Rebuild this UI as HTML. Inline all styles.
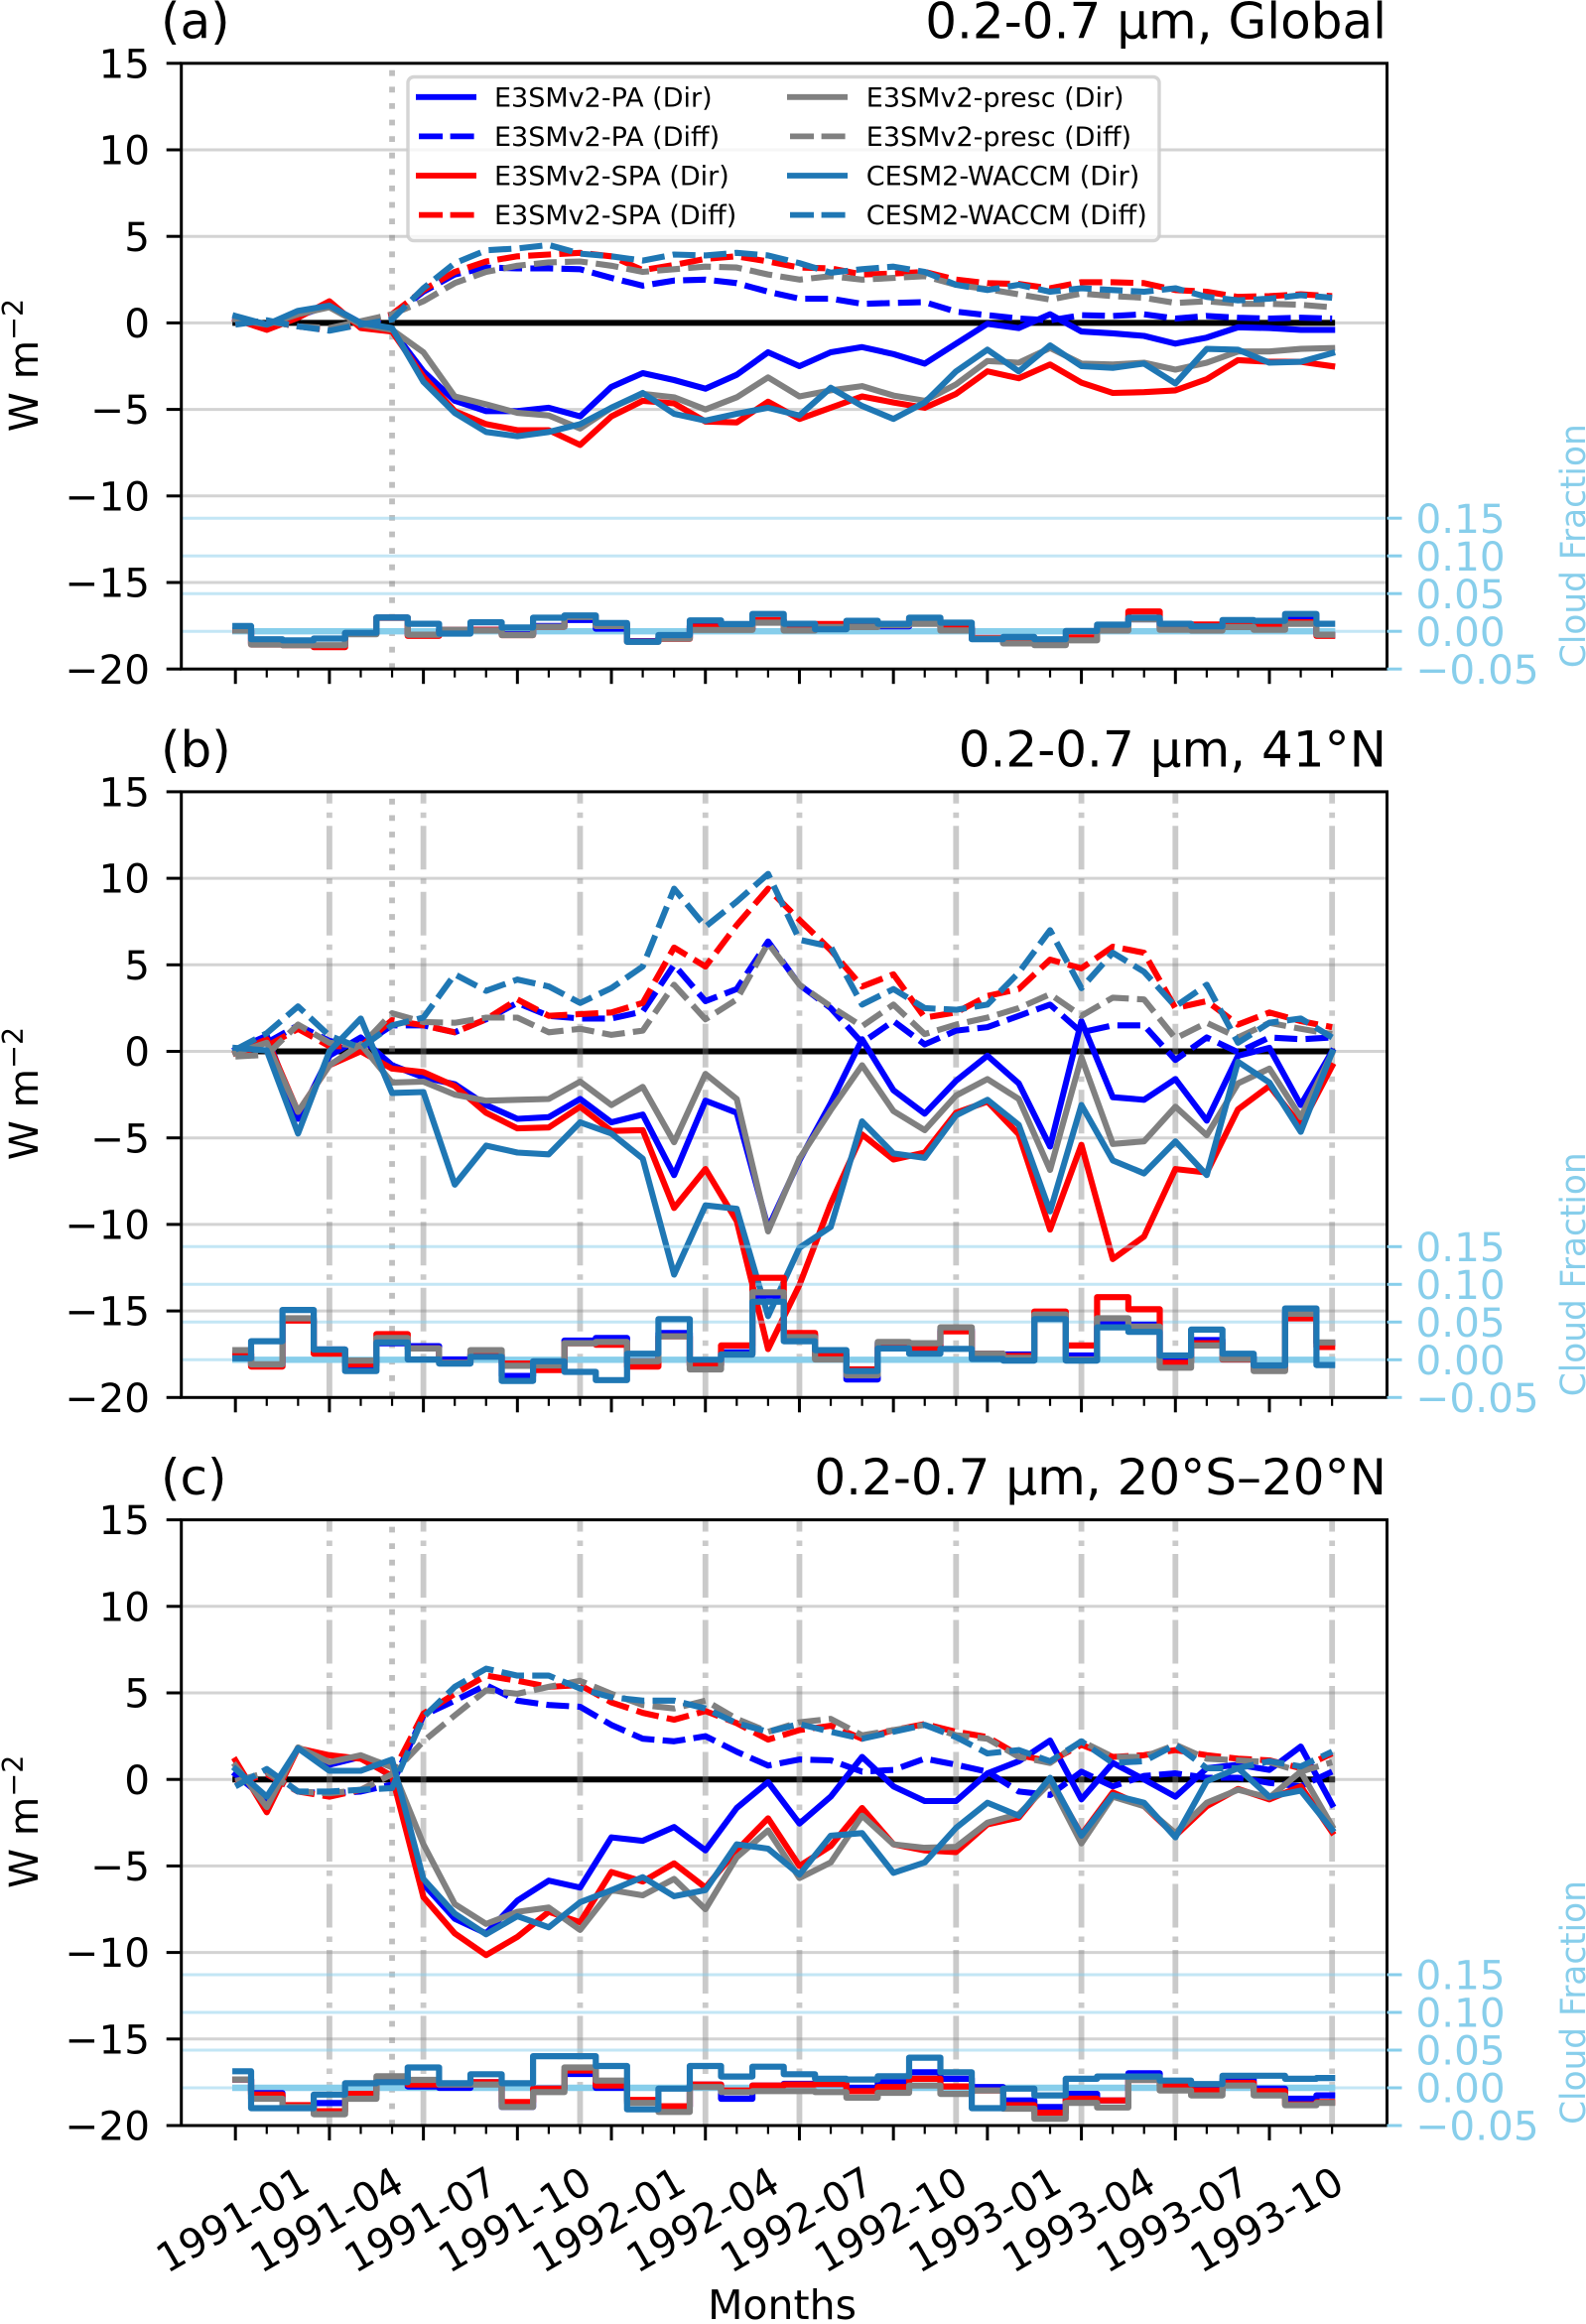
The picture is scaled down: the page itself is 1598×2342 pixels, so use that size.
<!DOCTYPE html>
<html lang="en">
<head>
<meta charset="utf-8">
<title>Radiative flux anomalies, 0.2-0.7 µm</title>
<style>
html,body{margin:0;padding:0;background:#fff;}
svg{display:block;font-family:"DejaVu Sans","Liberation Sans",sans-serif;}
</style>
</head>
<body>
<svg id="chart" xmlns="http://www.w3.org/2000/svg" width="1598" height="2342" viewBox="0 0 1598 2342"></svg>
<script>
// Tick labels and categories
const monthLabels = ['1991-01','1991-04','1991-07','1991-10','1992-01','1992-04','1992-07','1992-10','1993-01','1993-04','1993-07','1993-10'];
const fluxTicks = [15,10,5,0,-5,-10,-15,-20];
const cloudTicks = [0.15,0.10,0.05,0.00,-0.05];
const monthCount = 36;
const eventMonth = 5;
const seasonMonths = [3,6,11,15,18,23,27,30,35];

// Panel (a) Global
const aPaDir = [0.3,-0.1,0.4,1.0,0,-0.4,-2.8,-4.5,-5.1,-5.1,-4.9,-5.4,-3.7,-2.9,-3.3,-3.8,-3.0,-1.7,-2.5,-1.7,-1.4,-1.8,-2.35,-1.2,-0.05,-0.3,0.5,-0.5,-0.6,-0.75,-1.2,-0.85,-0.25,-0.3,-0.4,-0.4];
const aPaDiff = [0,0.1,-0.2,-0.4,-0.1,0.4,1.8,2.8,3.2,3.15,3.15,3.1,2.6,2.15,2.45,2.5,2.3,1.8,1.4,1.4,1.1,1.15,1.2,0.65,0.45,0.25,0.15,0.45,0.4,0.5,0.25,0.4,0.3,0.25,0.3,0.25];
const aSpaDir = [0.2,-0.4,0.3,1.25,-0.3,-0.5,-3.1,-5.1,-5.85,-6.2,-6.2,-7.05,-5.4,-4.5,-4.65,-5.7,-5.75,-4.55,-5.55,-4.9,-4.25,-4.6,-4.9,-4.1,-2.8,-3.2,-2.4,-3.45,-4.05,-4.0,-3.9,-3.25,-2.15,-2.25,-2.25,-2.5];
const aSpaDiff = [0,0.1,-0.2,-0.4,0,0.5,1.9,2.95,3.55,3.85,3.95,4.05,3.85,3.05,3.35,3.7,3.85,3.55,3.2,3.15,2.8,2.85,2.95,2.5,2.3,2.25,2.0,2.35,2.35,2.3,1.9,1.8,1.5,1.55,1.65,1.55];
const aPrescDir = [0.2,-0.1,0.5,0.9,-0.1,-0.4,-1.7,-4.25,-4.7,-5.2,-5.35,-6.1,-4.9,-4.1,-4.3,-5.0,-4.3,-3.15,-4.25,-3.9,-3.65,-4.2,-4.5,-3.55,-2.2,-2.3,-1.45,-2.35,-2.4,-2.3,-2.7,-2.3,-1.65,-1.65,-1.5,-1.45];
const aPrescDiff = [0,0.1,-0.2,-0.3,0.1,0.5,1.25,2.3,2.95,3.3,3.5,3.55,3.3,2.95,3.1,3.25,3.2,2.8,2.5,2.7,2.5,2.6,2.7,2.2,1.95,1.65,1.35,1.7,1.55,1.45,1.15,1.25,1.1,1.1,1.05,0.9];
const aWaccmDir = [0.4,-0.1,0.7,1.0,0,-0.3,-3.4,-5.2,-6.3,-6.55,-6.3,-5.85,-4.9,-4.05,-5.25,-5.65,-5.25,-4.9,-5.35,-3.75,-4.8,-5.55,-4.6,-2.8,-1.55,-2.8,-1.3,-2.5,-2.6,-2.35,-3.5,-1.5,-1.55,-2.3,-2.25,-1.75];
const aWaccmDiff = [-0.1,0.15,-0.2,-0.45,-0.1,0.2,2.0,3.45,4.2,4.3,4.5,4.0,3.85,3.6,3.95,3.9,4.05,3.9,3.45,2.9,3.1,3.25,2.95,2.2,1.9,2.2,1.8,2.0,1.9,1.8,2.0,1.5,1.3,1.4,1.6,1.45];
const aPaCloud = [0.001,-0.016,-0.018,-0.019,-0.003,0.018,-0.005,0.002,0.002,-0.004,0.007,0.015,0.0035,-0.013,-0.009,0.007,0.003,0.014,0.003,0.006,0.006,0.0066,0.012,0.005,-0.009,-0.015,-0.017,-0.009,0.003,0.016,0.004,0.006,0.008,0.008,0.0158,-0.005];
const aSpaCloud = [0.001,-0.0175,-0.0184,-0.021,-0.003,0.018,-0.006,0.002,0.002,-0.005,0.006,0.02,0.009,-0.0135,-0.01,0.006,0.003,0.015,0.003,0.0096,0.012,0.009,0.016,0.005,-0.009,-0.015,-0.017,-0.008,0.006,0.0263,0.005,0.009,0.0105,0.007,0.012,-0.006];
const aPrescCloud = [0.001,-0.0175,-0.0184,-0.0184,-0.004,0.018,-0.0045,0.002,0.001,-0.005,0.006,0.019,0.007,-0.014,-0.0096,0.0018,0.0018,0.0114,0.001,0.0057,0.0057,0.008,0.01,0.001,-0.0096,-0.016,-0.0184,-0.012,0.001,0.0158,0.002,0.001,0.0057,0.002,0.01,-0.0045];
const aWaccmCloud = [0.007,-0.0105,-0.012,-0.0096,-0.002,0.0184,0.01,-0.003,0.012,0.005,0.018,0.021,0.011,-0.014,-0.005,0.0145,0.0096,0.023,0.01,0.0026,0.014,0.01,0.018,0.0114,-0.0105,-0.0075,-0.0105,0.0004,0.0088,0.018,0.01,0.0066,0.015,0.014,0.023,0.01];

// Panel (b) 41N
const bPaDir = [0.1,0.9,-3.9,-0.25,0.8,-0.8,-1.5,-1.9,-3.1,-3.9,-3.8,-2.75,-4.1,-3.65,-7.15,-2.85,-3.55,-10.2,-6.3,-3.0,0.7,-2.25,-3.6,-1.7,-0.25,-1.85,-5.5,1.75,-2.65,-2.8,-1.6,-4.0,-0.25,0.2,-3.1,0];
const bPaDiff = [0,0.5,1.5,0.6,0.3,1.5,1.5,1.1,1.85,2.8,2.05,1.9,1.9,2.3,5.0,2.9,3.6,6.35,3.85,2.5,0.5,1.75,0.4,1.2,1.4,2.05,2.7,1.1,1.5,1.5,-0.5,0.8,-0.05,0.8,0.7,0.8];
const bSpaDir = [-0.1,0.7,-3.5,-0.8,0,-1.0,-1.2,-2.0,-3.55,-4.45,-4.4,-3.2,-4.6,-4.55,-9.05,-6.8,-9.8,-17.2,-13.5,-8.8,-4.8,-6.25,-5.85,-3.55,-2.9,-4.8,-10.3,-5.4,-12.0,-10.7,-6.8,-7.0,-3.35,-2.0,-4.3,-0.85];
const bSpaDiff = [-0.1,0.3,1.3,0.3,0.3,1.8,1.5,1.1,1.85,3.0,2.05,2.15,2.25,2.8,6.0,4.9,7.3,9.4,7.6,5.85,3.75,4.45,1.95,2.25,3.2,3.6,5.3,4.8,6.05,5.7,2.5,2.9,1.55,2.25,1.75,1.4];
const bPrescDir = [-0.1,0.5,-3.5,-0.8,0.4,-1.8,-1.75,-2.5,-2.85,-2.8,-2.75,-1.75,-3.1,-2.05,-5.25,-1.3,-2.75,-10.4,-6.2,-3.4,-0.8,-3.45,-4.55,-2.55,-1.6,-2.75,-6.85,-0.35,-5.35,-5.2,-3.2,-4.85,-1.85,-1.0,-3.8,-0.1];
const bPrescDiff = [-0.3,-0.2,1.55,0.5,0.3,2.2,1.7,1.65,1.95,1.95,1.1,1.3,0.95,1.2,3.85,1.85,3.0,6.25,3.85,2.6,1.45,2.7,1.0,1.55,1.95,2.5,3.3,2.05,3.1,3.0,0.75,1.65,0.8,1.65,1.3,1.0];
const bWaccmDir = [0.2,0.05,-4.75,0,1.9,-2.4,-2.35,-7.7,-5.45,-5.85,-5.95,-4.1,-4.75,-6.2,-12.9,-8.9,-9.1,-15.3,-11.35,-10.15,-4.05,-5.9,-6.15,-3.7,-2.8,-4.25,-9.25,-3.1,-6.3,-7.05,-5.2,-7.15,-0.6,-1.8,-4.65,-0.05];
const bWaccmDiff = [0.1,1.05,2.6,0.9,0.2,1.5,1.95,4.45,3.5,4.15,3.75,2.8,3.65,4.9,9.4,7.2,8.65,10.25,6.45,6.05,2.7,3.6,2.5,2.4,2.7,4.55,7.0,3.65,5.7,4.6,2.6,3.85,0.5,1.65,1.9,0.8];
const bPaCloud = [0.007,-0.0075,0.054,0.0136,-0.0075,0.022,0.018,0.0004,0.007,-0.0215,-0.008,0.0254,0.029,-0.002,0.0355,-0.0075,0.01,0.085,0.033,0.007,-0.026,0.022,0.0158,0.04,0.008,0.007,0.057,0.0057,0.0487,0.0465,0.0026,0.026,0.004,-0.0127,0.062,0.022];
const bSpaCloud = [0.008,-0.009,0.052,0.008,-0.006,0.034,0.015,-0.004,0.007,-0.005,-0.0136,0.022,0.02,-0.009,0.031,-0.0075,0.019,0.1087,0.0355,0.0057,-0.0127,0.018,0.0145,0.0377,0.008,0.005,0.064,0.019,0.083,0.067,-0.004,0.022,0.0004,-0.0127,0.055,0.017];
const bPrescCloud = [0.0127,-0.006,0.055,0.0136,-0.001,0.029,0.015,-0.004,0.0127,-0.008,-0.0075,0.022,0.0237,-0.002,0.031,-0.0127,0.007,0.0895,0.03,0.0004,-0.0206,0.0237,0.022,0.043,0.008,0.0026,0.06,0.0004,0.055,0.044,-0.0105,0.019,0.001,-0.015,0.061,0.023];
const bWaccmCloud = [0.002,0.0246,0.066,0.0136,-0.015,0.023,0.0004,-0.005,0.004,-0.028,-0.002,-0.016,-0.027,0.008,0.054,0,0.007,0.077,0.0246,0.0127,-0.015,0.015,0.008,0.0145,0.001,-0.001,0.054,-0.001,0.043,0.037,0.0057,0.04,0.008,-0.0075,0.068,-0.007];

// Panel (c) 20S-20N
const cPaDir = [0.3,-1.2,1.8,0.85,1.3,0.15,-6.05,-8.05,-8.9,-7.0,-5.85,-6.25,-3.35,-3.55,-2.75,-4.1,-1.65,-0.15,-2.55,-1.0,1.3,-0.4,-1.25,-1.25,0.35,1.05,2.25,-1.15,0.95,0,-1.0,0.65,0.85,0.55,1.9,-1.45];
const cPaDiff = [-0.2,0.3,-0.7,-0.8,-0.7,-0.3,3.7,4.55,5.45,4.55,4.3,4.2,3.15,2.35,2.2,2.5,1.6,0.8,1.15,1.1,0.45,0.55,1.2,0.85,0.45,-0.7,-0.9,0.45,-0.4,0.2,0.35,0.1,0.1,-0.2,-0.4,0.45];
const cSpaDir = [1.1,-1.9,1.8,1.4,1.2,0.2,-6.8,-8.9,-10.15,-9.1,-7.65,-8.25,-5.35,-5.9,-4.85,-6.25,-4.1,-2.25,-5.0,-3.85,-1.65,-3.75,-4.1,-4.2,-2.6,-2.2,0,-3.2,-0.75,-1.55,-3.25,-1.55,-0.55,-1.15,-0.4,-3.05];
const cSpaDiff = [-0.2,0.3,-0.7,-1.0,-0.6,0.3,3.8,4.95,6.0,5.7,5.35,5.45,4.45,3.85,3.45,3.95,3.25,2.3,2.85,3.1,2.35,2.85,3.2,2.75,2.45,1.4,1.05,2.0,1.3,1.4,1.7,1.4,1.2,1.1,0.65,1.5];
const cPrescDir = [0.8,-1.6,1.85,1.0,1.4,0.7,-3.75,-7.2,-8.35,-7.65,-7.4,-8.7,-6.4,-6.7,-5.75,-7.5,-4.5,-2.95,-5.7,-4.8,-2.1,-3.75,-3.95,-3.9,-2.5,-2.0,-0.2,-3.7,-1.0,-1.55,-3.1,-1.35,-0.6,-1.05,0.45,-2.7];
const cPrescDiff = [-0.1,0.4,-0.7,-0.8,-0.6,0.3,2.2,3.7,5.15,4.95,5.35,5.7,4.95,4.3,4.1,4.55,3.5,2.75,3.3,3.5,2.55,2.85,3.15,2.55,2.35,1.3,0.95,2.2,1.3,1.3,2.0,1.2,1.1,1.0,0.45,1.0];
const cWaccmDir = [0.6,-1.0,1.8,0.5,0.5,1.15,-5.75,-7.75,-8.95,-7.9,-8.55,-7.1,-6.4,-5.65,-6.75,-6.4,-3.75,-4.0,-5.5,-3.25,-3.1,-5.4,-4.8,-2.8,-1.35,-2.1,0.1,-3.25,-0.9,-1.35,-3.35,-0.1,0.65,-1.0,-0.65,-2.9];
const cWaccmDiff = [-0.4,0.6,-0.7,-0.7,-0.6,-0.5,3.6,5.35,6.4,6.0,6.0,5.25,4.75,4.55,4.55,4.1,3.25,2.75,3.2,2.75,2.35,2.75,3.15,2.45,1.5,1.7,1.05,2.2,0.95,1.05,2.0,0.65,0.65,1.05,0.75,1.6];
const cPaCloud = [0.011,-0.007,-0.0254,-0.0202,-0.008,0.0096,0.0018,0,0.0075,-0.0254,-0.001,0.0184,0,-0.0167,-0.0254,0.0044,-0.0145,0.003,0.0053,0.005,0,0.0075,0.0206,0.012,0.001,-0.0167,-0.0254,-0.008,-0.0167,0.0193,0.0075,-0.001,0.011,-0.001,-0.0145,-0.01];
const cSpaCloud = [0.011,-0.009,-0.023,-0.031,-0.008,0.0096,0.0044,0.0044,0.0075,-0.019,-0.001,0.023,0.003,-0.016,-0.0245,0.0044,-0.0035,0.003,0.0044,0.005,-0.0044,0.001,0.012,0.0018,-0.0035,-0.023,-0.033,-0.0145,-0.0167,0.0105,0.003,-0.0035,0.0066,-0.0044,-0.022,-0.019];
const cPrescCloud = [0.011,-0.0145,-0.0254,-0.035,-0.0145,0.0154,0.0105,0.0044,0.0044,-0.0254,-0.0057,0.027,0.0096,-0.02,-0.032,0.001,-0.0057,-0.0044,-0.0044,-0.0057,-0.013,-0.0066,0.003,-0.008,-0.0035,-0.0276,-0.041,-0.02,-0.026,0.0105,-0.0035,-0.01,0.003,-0.01,-0.023,-0.02];
const cWaccmCloud = [0.022,-0.027,-0.027,-0.009,0.006,0.0075,0.027,0.006,0.018,0.006,0.042,0.042,0.029,-0.0285,-0.001,0.029,0.015,0.028,0.018,0.012,0.011,0.0154,0.04,0.0206,-0.027,-0.001,-0.01,0.012,0.015,0.015,0.0096,0.005,0.016,0.016,0.012,0.013];

// Axis geometry
const svg = document.getElementById('chart');
const NS = 'http://www.w3.org/2000/svg';
const axLeft = 182.7, axRight = 1397.5, axHeight = 610.4;
const x0 = 237.2, monthStep = 31.57;
const fluxUnit = axHeight / 35;
const cloudUnit = 760;
const BLUE = '#0000ff', RED = '#ff0000', GRAY = '#808080', TEAL = '#1f77b4', SKY = '#87ceeb';

function xAt(i){ return x0 + i * monthStep; }
function fluxY(top, v){ return top + (15 - v) * fluxUnit; }
function cloudY(top, v){ return top + axHeight - (v + 0.05) * cloudUnit; }

function mk(parent, tag, attrs, text){
  const el = document.createElementNS(NS, tag);
  for (const k in attrs) el.setAttribute(k, attrs[k]);
  if (text !== undefined) el.textContent = text;
  parent.appendChild(el);
  return el;
}
function linePath(vals, yFn){
  return vals.map(function(v, i){ return (i ? 'L' : 'M') + xAt(i).toFixed(1) + ' ' + yFn(v).toFixed(1); }).join('');
}
function stepPath(vals, yFn){
  let d = 'M' + xAt(0).toFixed(1) + ' ' + yFn(vals[0]).toFixed(1);
  for (let i = 0; i < vals.length - 1; i++){
    const xm = xAt(i + 0.5).toFixed(1);
    d += 'L' + xm + ' ' + yFn(vals[i]).toFixed(1) + 'L' + xm + ' ' + yFn(vals[i + 1]).toFixed(1);
  }
  return d + 'L' + xAt(vals.length - 1).toFixed(1) + ' ' + yFn(vals[vals.length - 1]).toFixed(1);
}
function fmtFlux(v){ return v < 0 ? '\u2212' + (-v) : String(v); }
function fmtCloud(v){ return v < 0 ? '\u2212' + (-v).toFixed(2) : v.toFixed(2); }

function drawPanel(p){
  const g = mk(svg, 'g', {});
  
  
  const top = p.top, bottom = top + axHeight;
  const fy = function(v){ return fluxY(top, v); };
  const cy = function(v){ return cloudY(top, v); };

  // horizontal flux gridlines
  [10,5,0,-5,-10,-15].forEach(function(v){
    const el = mk(g, 'line', {x1:axLeft, x2:axRight, y1:fy(v), y2:fy(v), stroke:'#d3d3d3', 'stroke-width':3});
    
    
  });

  // zero reference line
  const zero = mk(g, 'line', {x1:xAt(0), x2:xAt(monthCount - 1), y1:fy(0), y2:fy(0), stroke:'#000', 'stroke-width':6, 'stroke-linecap':'square'});
  
  

  // season markers
  if (p.seasons){
    seasonMonths.forEach(function(m){
      const el = mk(g, 'line', {x1:xAt(m), x2:xAt(m), y1:bottom, y2:top, stroke:'#808080', 'stroke-opacity':0.42, 'stroke-width':5.8, 'stroke-dasharray':'44 8 5.5 9'});
      
      
    });
  }
  const ev = mk(g, 'line', {x1:xAt(eventMonth), x2:xAt(eventMonth), y1:bottom, y2:top, stroke:'#808080', 'stroke-opacity':0.5, 'stroke-width':5.8, 'stroke-dasharray':'5.8 10.8'});
  
  

  // flux series
  p.series.forEach(function(s){
    const el = mk(g, 'path', {d:linePath(s.vals, fy), fill:'none', stroke:s.color, 'stroke-width':6.1, 'stroke-linejoin':'round'});
    if (s.dash){ el.setAttribute('stroke-dasharray', '23 8.3'); }
    else { el.setAttribute('stroke-linecap', 'square'); }
    
    
  });

  // cloud fraction twin axis gridlines
  cloudTicks.forEach(function(v){
    if (v < 0) return;
    const el = mk(g, 'line', {x1:axLeft, x2:axRight, y1:cy(v), y2:cy(v), stroke:SKY, 'stroke-opacity':0.5, 'stroke-width':3});
    
    
  });
  const cz = mk(g, 'line', {x1:xAt(0), x2:xAt(monthCount - 1), y1:cy(0), y2:cy(0), stroke:SKY, 'stroke-width':6.4, 'stroke-linecap':'square'});
  
  

  // cloud fraction step series
  p.clouds.forEach(function(s){
    const el = mk(g, 'path', {d:stepPath(s.vals, cy), fill:'none', stroke:s.color, 'stroke-width':6.2, 'stroke-linejoin':'round', 'stroke-linecap':'square'});
    
    
  });

  // frame
  const frame = mk(g, 'rect', {x:axLeft, y:top, width:axRight - axLeft, height:axHeight, fill:'none', stroke:'#000', 'stroke-width':3});
  
  

  // left axis ticks and labels
  fluxTicks.forEach(function(v){
    const t = mk(g, 'line', {x1:axLeft - 15, x2:axLeft, y1:fy(v), y2:fy(v), stroke:'#000', 'stroke-width':3});
    
    
    const l = mk(g, 'text', {x:151, y:fy(v) + 14.6, 'text-anchor':'end', 'font-size':40.5, fill:'#000'}, fmtFlux(v));
    
    
  });

  // right axis ticks and labels
  cloudTicks.forEach(function(v){
    const t = mk(g, 'line', {x1:axRight, x2:axRight + 15, y1:cy(v), y2:cy(v), stroke:SKY, 'stroke-width':3});
    
    
    const l = mk(g, 'text', {x:1426.5, y:cy(v) + 14.6, 'font-size':40.5, fill:SKY}, fmtCloud(v));
    
    
  });

  // bottom ticks
  for (let i = 0; i < monthCount; i++){
    const major = i % 3 === 0 && i < 34;
    const t = mk(g, 'line', {x1:xAt(i), x2:xAt(i), y1:bottom, y2:bottom + (major ? 15 : 8.5), stroke:'#000', 'stroke-width':major ? 3 : 2.2});
    
    
  }

  // titles
  const tl = mk(g, 'text', {x:162, y:top - 25.5, 'font-size':50, fill:'#000'}, p.label);
  
  
  const tr = mk(g, 'text', {x:1397, y:top - 25.5, 'text-anchor':'end', 'font-size':50, fill:'#000'}, p.title);
  
  

  // y axis title
  const yc = top + axHeight / 2 - 1;
  const yl = mk(g, 'text', {transform:'translate(38 ' + yc + ') rotate(-90)', 'text-anchor':'middle', 'font-size':40.5, fill:'#000'});
  
  
  mk(yl, 'tspan', {}, 'W m');
  mk(yl, 'tspan', {dy:-15, 'font-size':28.5}, '\u22122');

  // cloud axis title
  const cl = mk(g, 'text', {transform:'translate(1597 ' + (top + axHeight - 124) + ') rotate(-90)', 'text-anchor':'middle', 'font-size':34.3, fill:SKY}, 'Cloud Fraction');
  
  
}

drawPanel({
  key:'a', top:63.8, label:'(a)', title:'0.2-0.7 \u00b5m, Global', seasons:false,
  series:[
    {vals:aPaDir, color:BLUE, dash:false, name:'e3smv2-pa-dir-line'},
    {vals:aPaDiff, color:BLUE, dash:true, name:'e3smv2-pa-diff-line'},
    {vals:aSpaDir, color:RED, dash:false, name:'e3smv2-spa-dir-line'},
    {vals:aSpaDiff, color:RED, dash:true, name:'e3smv2-spa-diff-line'},
    {vals:aPrescDir, color:GRAY, dash:false, name:'e3smv2-presc-dir-line'},
    {vals:aPrescDiff, color:GRAY, dash:true, name:'e3smv2-presc-diff-line'},
    {vals:aWaccmDir, color:TEAL, dash:false, name:'cesm2-waccm-dir-line'},
    {vals:aWaccmDiff, color:TEAL, dash:true, name:'cesm2-waccm-diff-line'}
  ],
  clouds:[
    {vals:aPaCloud, color:BLUE, name:'e3smv2-pa-cloud-step'},
    {vals:aSpaCloud, color:RED, name:'e3smv2-spa-cloud-step'},
    {vals:aPrescCloud, color:GRAY, name:'e3smv2-presc-cloud-step'},
    {vals:aWaccmCloud, color:TEAL, name:'cesm2-waccm-cloud-step'}
  ]
});
drawPanel({
  key:'b', top:797.9, label:'(b)', title:'0.2-0.7 \u00b5m, 41\u00b0N', seasons:true,
  series:[
    {vals:bPaDir, color:BLUE, dash:false, name:'e3smv2-pa-dir-line'},
    {vals:bPaDiff, color:BLUE, dash:true, name:'e3smv2-pa-diff-line'},
    {vals:bSpaDir, color:RED, dash:false, name:'e3smv2-spa-dir-line'},
    {vals:bSpaDiff, color:RED, dash:true, name:'e3smv2-spa-diff-line'},
    {vals:bPrescDir, color:GRAY, dash:false, name:'e3smv2-presc-dir-line'},
    {vals:bPrescDiff, color:GRAY, dash:true, name:'e3smv2-presc-diff-line'},
    {vals:bWaccmDir, color:TEAL, dash:false, name:'cesm2-waccm-dir-line'},
    {vals:bWaccmDiff, color:TEAL, dash:true, name:'cesm2-waccm-diff-line'}
  ],
  clouds:[
    {vals:bPaCloud, color:BLUE, name:'e3smv2-pa-cloud-step'},
    {vals:bSpaCloud, color:RED, name:'e3smv2-spa-cloud-step'},
    {vals:bPrescCloud, color:GRAY, name:'e3smv2-presc-cloud-step'},
    {vals:bWaccmCloud, color:TEAL, name:'cesm2-waccm-cloud-step'}
  ]
});
drawPanel({
  key:'c', top:1531.6, label:'(c)', title:'0.2-0.7 \u00b5m, 20\u00b0S\u201320\u00b0N', seasons:true,
  series:[
    {vals:cPaDir, color:BLUE, dash:false, name:'e3smv2-pa-dir-line'},
    {vals:cPaDiff, color:BLUE, dash:true, name:'e3smv2-pa-diff-line'},
    {vals:cSpaDir, color:RED, dash:false, name:'e3smv2-spa-dir-line'},
    {vals:cSpaDiff, color:RED, dash:true, name:'e3smv2-spa-diff-line'},
    {vals:cPrescDir, color:GRAY, dash:false, name:'e3smv2-presc-dir-line'},
    {vals:cPrescDiff, color:GRAY, dash:true, name:'e3smv2-presc-diff-line'},
    {vals:cWaccmDir, color:TEAL, dash:false, name:'cesm2-waccm-dir-line'},
    {vals:cWaccmDiff, color:TEAL, dash:true, name:'cesm2-waccm-diff-line'}
  ],
  clouds:[
    {vals:cPaCloud, color:BLUE, name:'e3smv2-pa-cloud-step'},
    {vals:cSpaCloud, color:RED, name:'e3smv2-spa-cloud-step'},
    {vals:cPrescCloud, color:GRAY, name:'e3smv2-presc-cloud-step'},
    {vals:cWaccmCloud, color:TEAL, name:'cesm2-waccm-cloud-step'}
  ]
});

// x tick labels, bottom panel only
monthLabels.forEach(function(label, k){
  const cx = xAt(k * 3) - 2.4, cy = 2237.5;
  const el = mk(svg, 'text', {x:cx, y:cy + 13.5, 'text-anchor':'middle', 'font-size':40.5, fill:'#000', transform:'rotate(-30 ' + cx + ' ' + cy + ')'}, label);
  
  
});
const xTitle = mk(svg, 'text', {x:788, y:2337, 'text-anchor':'middle', 'font-size':41, fill:'#000'}, 'Months');



// legend
const legend = mk(svg, 'g', {});


const legendBox = mk(legend, 'rect', {x:411, y:77.5, width:757, height:165, rx:6, fill:'#fff', 'fill-opacity':0.8, stroke:'#cccccc', 'stroke-opacity':0.85, 'stroke-width':3.4});


const legendRows = [97.8, 137.4, 177, 216.6];
const legendEntries = [
  {text:'E3SMv2-PA (Dir)', color:BLUE, dash:false, col:0, row:0},
  {text:'E3SMv2-PA (Diff)', color:BLUE, dash:true, col:0, row:1},
  {text:'E3SMv2-SPA (Dir)', color:RED, dash:false, col:0, row:2},
  {text:'E3SMv2-SPA (Diff)', color:RED, dash:true, col:0, row:3},
  {text:'E3SMv2-presc (Dir)', color:GRAY, dash:false, col:1, row:0},
  {text:'E3SMv2-presc (Diff)', color:GRAY, dash:true, col:1, row:1},
  {text:'CESM2-WACCM (Dir)', color:TEAL, dash:false, col:1, row:2},
  {text:'CESM2-WACCM (Diff)', color:TEAL, dash:true, col:1, row:3}
];
legendEntries.forEach(function(e){
  const lx = e.col ? 793 : 419;
  const tx = e.col ? 872.8 : 498;
  const y = legendRows[e.row];
  const h = mk(legend, 'line', {x1:lx, x2:lx + 61, y1:y, y2:y, stroke:e.color, 'stroke-width':5.8});
  if (e.dash){ h.setAttribute('stroke-dasharray', '24 7.6'); h.setAttribute('stroke-dashoffset', '-3'); }
  
  
  const t = mk(legend, 'text', {x:tx, y:y + 9.5, 'font-size':27, fill:'#000'}, e.text);
  
  
});
</script>
</body>
</html>
